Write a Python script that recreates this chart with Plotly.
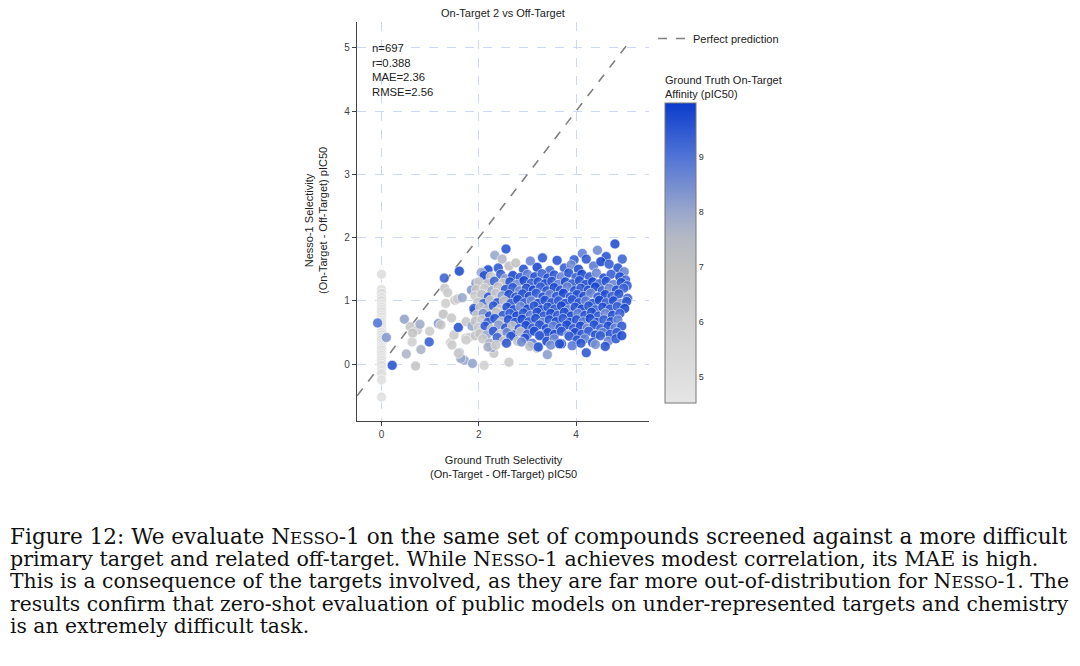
import plotly.graph_objects as go

# ground truth selectivity = 0 column
zero_x = [0.0] * 34
zero_y = [1.42, 1.18, 1.12, 1.06, 1.00, 0.95, 0.90, 0.86, 0.82, 0.78, 0.74, 0.70,
          0.66, 0.62, 0.58, 0.54, 0.50, 0.46, 0.42, 0.38, 0.34, 0.30, 0.26, 0.22,
          0.18, 0.14, 0.10, 0.06, 0.02, -0.02, -0.08, -0.15, -0.25, -0.52]
zero_c = [5.0, 4.9, 5.1, 4.8, 5.2, 4.7, 5.0, 4.9, 5.3, 4.8, 5.1, 4.6,
          5.0, 4.9, 5.2, 4.7, 5.0, 5.1, 4.8, 5.3, 4.9, 5.0, 4.7, 5.2,
          4.9, 5.0, 4.8, 5.1, 4.9, 5.0, 4.7, 5.0, 4.8, 4.9]

# sparse points on the low-selectivity side and along the bottom
sparse_x = [-0.08, 0.10, 0.22, 0.70, 0.47, 0.51, 0.81, 0.63, 0.59, 0.74, 0.79, 0.64,
            0.98, 0.99, 1.17, 1.27, 1.32, 1.30, 1.36, 1.29, 1.60, 1.44, 1.42, 1.51,
            1.56, 1.66, 1.49, 1.58, 1.60, 1.70, 1.87, 1.63, 1.22, 1.73, 1.74, 1.86,
            1.85, 1.94, 2.11, 2.62, 2.31, 2.27, 3.41, 4.21, 3.20, 3.23, 1.58, 1.45,
            1.91, 1.80, 1.74, 1.93, 2.13, 2.11]
sparse_y = [0.65, 0.42, -0.02, -0.03, 0.71, 0.16, 0.23, 0.35, 0.59, 0.54, 0.63, 0.49,
            0.35, 0.52, 0.64, 0.79, 0.96, 1.20, 1.13, 1.36, 1.47, 0.73, 0.34, 1.01,
            1.03, 1.05, 0.46, 0.58, 0.18, 0.06, 0.01, 0.09, 0.62, 0.41, 0.67, 0.60,
            1.17, 1.28, -0.02, 0.03, 0.17, 0.26, 0.15, 0.18, 0.25, 0.27, 0.17, 0.30,
            0.84, 0.42, 0.38, 0.45, 1.28, 1.43]
sparse_c = [9.0, 8.3, 9.6, 6.8, 8.1, 7.6, 7.7, 6.0, 6.6, 6.4, 7.9, 6.9,
            9.4, 6.3, 8.3, 6.9, 6.1, 6.6, 6.4, 9.3, 9.7, 6.5, 5.9, 6.5,
            6.3, 8.0, 6.4, 9.6, 7.9, 8.0, 8.1, 8.0, 6.7, 6.2, 6.6, 8.0,
            8.3, 8.2, 6.0, 6.4, 6.6, 8.0, 8.2, 9.5, 6.9, 9.4, 6.3, 6.2,
            9.5, 6.5, 6.1, 6.8, 6.7, 9.5]

# main cluster, read row by row from top to bottom
cluster_x = [
    2.56, 2.33, 2.48, 3.31, 3.96, 4.13, 4.44, 4.62, 4.80, 4.95,
    2.19, 2.40, 2.62, 2.76, 2.92, 3.06, 3.20, 3.46, 3.61, 3.76, 3.90, 4.05, 4.21, 4.36, 4.51, 4.68, 4.86, 4.99,
    2.05, 2.11, 2.25, 2.45, 2.55, 2.70, 2.85, 3.00, 3.15, 3.30, 3.42, 3.55, 3.70, 3.85, 4.00, 4.12, 4.28, 4.42, 4.57, 4.72, 4.90, 5.02,
    2.00, 2.18, 2.32, 2.50, 2.64, 2.78, 2.93, 3.08, 3.22, 3.36, 3.50, 3.63, 3.78, 3.92, 4.07, 4.20, 4.34, 4.48, 4.62, 4.77, 4.93, 5.05,
    1.95, 2.12, 2.27, 2.40, 2.55, 2.70, 2.84, 2.98, 3.12, 3.27, 3.40, 3.55, 3.68, 3.82, 3.97, 4.10, 4.25, 4.40, 4.54, 4.68, 4.83, 4.98,
    1.92, 2.06, 2.20, 2.35, 2.48, 2.62, 2.76, 2.90, 3.04, 3.18, 3.32, 3.46, 3.60, 3.74, 3.88, 4.02, 4.16, 4.30, 4.45, 4.60, 4.74, 4.88, 5.06,
    1.98, 2.10, 2.24, 2.38, 2.52, 2.66, 2.80, 2.94, 3.08, 3.22, 3.36, 3.50, 3.64, 3.78, 3.92, 4.06, 4.20, 4.34, 4.48, 4.62, 4.77, 4.92, 5.04,
    1.90, 2.03, 2.16, 2.30, 2.44, 2.58, 2.72, 2.86, 3.00, 3.14, 3.28, 3.42, 3.56, 3.70, 3.84, 3.98, 4.12, 4.26, 4.40, 4.55, 4.70, 4.85, 5.00,
    1.96, 2.09, 2.22, 2.36, 2.50, 2.64, 2.78, 2.92, 3.06, 3.20, 3.34, 3.48, 3.62, 3.76, 3.90, 4.04, 4.18, 4.32, 4.46, 4.60, 4.75, 4.90,
    1.93, 2.06, 2.19, 2.33, 2.47, 2.61, 2.75, 2.89, 3.03, 3.17, 3.31, 3.45, 3.59, 3.73, 3.87, 4.01, 4.15, 4.29, 4.43, 4.57, 4.72, 4.86,
    1.99, 2.13, 2.27, 2.41, 2.55, 2.69, 2.83, 2.97, 3.11, 3.25, 3.39, 3.53, 3.67, 3.81, 3.95, 4.09, 4.23, 4.37, 4.51, 4.66, 4.80, 4.94,
    2.02, 2.16, 2.30, 2.44, 2.58, 2.72, 2.86, 3.00, 3.14, 3.28, 3.42, 3.56, 3.70, 3.84, 3.98, 4.12, 4.26, 4.40, 4.55, 4.70, 4.84,
    2.08, 2.22, 2.38, 2.52, 2.66, 2.80, 2.95, 3.10, 3.25, 3.40, 3.55, 3.70, 3.86, 4.02, 4.18, 4.34, 4.50, 4.66, 4.82, 4.94,
    2.19, 2.35, 2.57, 2.88, 3.05, 3.22, 3.48, 3.66, 3.92, 4.10, 4.40, 4.60,
]
cluster_y = [
    1.82, 1.72, 1.66, 1.68, 1.65, 1.75, 1.80, 1.70, 1.90, 1.66,
    1.49, 1.52, 1.55, 1.60, 1.50, 1.63, 1.53, 1.48, 1.64, 1.52, 1.57, 1.50, 1.66, 1.55, 1.62, 1.58, 1.52, 1.46,
    1.45, 1.40, 1.38, 1.42, 1.35, 1.40, 1.37, 1.42, 1.38, 1.43, 1.36, 1.41, 1.38, 1.44, 1.37, 1.42, 1.38, 1.44, 1.36, 1.42, 1.38, 1.33,
    1.30, 1.27, 1.31, 1.28, 1.30, 1.26, 1.32, 1.28, 1.30, 1.27, 1.31, 1.26, 1.30, 1.27, 1.32, 1.26, 1.30, 1.27, 1.31, 1.26, 1.29, 1.24,
    1.18, 1.20, 1.16, 1.22, 1.18, 1.21, 1.16, 1.20, 1.17, 1.22, 1.16, 1.21, 1.17, 1.22, 1.16, 1.20, 1.17, 1.22, 1.16, 1.20, 1.17, 1.20,
    1.08, 1.10, 1.06, 1.12, 1.08, 1.10, 1.06, 1.11, 1.07, 1.12, 1.06, 1.10, 1.07, 1.12, 1.06, 1.10, 1.07, 1.12, 1.06, 1.10, 1.07, 1.11, 1.04,
    0.98, 0.96, 1.01, 0.97, 1.00, 0.96, 1.02, 0.97, 1.00, 0.96, 1.01, 0.97, 1.00, 0.96, 1.02, 0.97, 1.00, 0.96, 1.01, 0.97, 1.00, 0.96, 0.99,
    0.88, 0.90, 0.86, 0.92, 0.87, 0.90, 0.86, 0.91, 0.87, 0.92, 0.86, 0.90, 0.87, 0.92, 0.86, 0.90, 0.87, 0.92, 0.86, 0.90, 0.87, 0.91, 0.88,
    0.78, 0.80, 0.76, 0.82, 0.77, 0.80, 0.76, 0.81, 0.77, 0.82, 0.76, 0.80, 0.77, 0.82, 0.76, 0.80, 0.77, 0.82, 0.76, 0.80, 0.77, 0.80,
    0.68, 0.70, 0.66, 0.72, 0.67, 0.70, 0.66, 0.71, 0.67, 0.72, 0.66, 0.70, 0.67, 0.72, 0.66, 0.70, 0.67, 0.72, 0.66, 0.70, 0.67, 0.70,
    0.58, 0.60, 0.56, 0.62, 0.57, 0.60, 0.56, 0.61, 0.57, 0.62, 0.56, 0.60, 0.57, 0.62, 0.56, 0.60, 0.57, 0.62, 0.56, 0.60, 0.57, 0.60,
    0.48, 0.46, 0.52, 0.47, 0.50, 0.46, 0.51, 0.47, 0.52, 0.46, 0.50, 0.47, 0.52, 0.46, 0.50, 0.47, 0.52, 0.46, 0.50, 0.47, 0.50,
    0.40, 0.33, 0.42, 0.37, 0.44, 0.36, 0.41, 0.33, 0.45, 0.36, 0.40, 0.32, 0.44, 0.38, 0.40, 0.34, 0.45, 0.36, 0.40, 0.45,
    0.27, 0.30, 0.33, 0.35, 0.28, 0.27, 0.30, 0.32, 0.29, 0.33, 0.31, 0.28,
]
cluster_c = [
    9.6, 8.0, 7.6, 9.5, 9.4, 8.8, 8.6, 9.6, 9.7, 9.3,
    9.7, 9.5, 7.1, 6.9, 9.6, 8.7, 9.8, 9.3, 9.6, 9.4, 8.6, 9.7, 9.5, 8.9, 9.8, 9.4, 9.6, 8.7,
    8.0, 9.6, 6.8, 9.4, 8.2, 9.8, 9.5, 8.8, 9.7, 9.3, 9.8, 9.5, 8.7, 9.6, 9.4, 9.8, 9.5, 8.6, 9.7, 9.4, 9.8, 9.2,
    6.6, 7.5, 9.3, 7.0, 9.6, 8.5, 9.8, 9.4, 9.6, 9.7, 9.5, 8.8, 9.8, 9.4, 9.6, 9.7, 9.8, 9.3, 9.6, 8.7, 9.7, 9.4,
    7.0, 6.5, 8.0, 6.9, 9.6, 9.5, 8.6, 9.7, 9.8, 9.4, 9.6, 9.8, 9.5, 8.7, 9.7, 9.5, 9.6, 9.8, 9.4, 8.6, 9.7, 9.3,
    6.4, 7.2, 9.5, 6.8, 8.3, 9.7, 9.5, 9.6, 9.8, 9.4, 9.7, 8.8, 9.6, 9.8, 9.5, 9.6, 9.8, 8.7, 9.5, 9.7, 9.4, 9.6, 9.3,
    6.7, 9.3, 6.6, 9.6, 7.3, 9.5, 9.7, 9.5, 8.6, 9.8, 9.6, 9.7, 9.4, 9.8, 9.5, 9.7, 8.8, 9.6, 9.8, 9.4, 9.7, 8.7, 9.5,
    9.4, 6.9, 7.4, 9.5, 6.8, 9.7, 9.6, 8.6, 9.8, 9.5, 9.7, 9.6, 9.4, 9.8, 8.8, 9.7, 9.8, 9.5, 9.3, 9.7, 9.6, 9.4, 9.8,
    6.5, 8.4, 9.6, 7.0, 9.5, 9.4, 9.8, 9.6, 8.9, 9.7, 9.5, 9.8, 9.4, 9.7, 9.8, 8.8, 9.6, 9.7, 9.5, 8.6, 9.7, 9.4,
    7.1, 6.6, 9.4, 9.6, 7.2, 9.7, 9.5, 9.8, 9.4, 9.7, 8.7, 9.6, 9.8, 9.5, 9.7, 9.6, 8.9, 9.8, 9.5, 9.4, 9.7, 8.8,
    6.4, 9.5, 6.9, 8.2, 9.6, 7.3, 9.5, 9.8, 9.4, 9.6, 9.8, 8.8, 9.6, 9.7, 9.5, 9.8, 8.6, 9.6, 9.4, 9.7, 8.8, 9.5,
    7.0, 8.0, 9.5, 6.8, 8.6, 9.6, 7.2, 9.5, 9.7, 8.9, 9.6, 9.8, 9.5, 8.7, 9.7, 9.6, 9.4, 9.7, 8.8, 9.6, 9.4,
    6.6, 7.8, 9.3, 6.9, 9.5, 7.1, 9.6, 8.9, 9.5, 9.8, 8.6, 9.6, 9.4, 9.7, 8.8, 9.6, 9.4, 8.7, 9.5, 9.7,
    7.8, 6.5, 9.5, 8.6, 7.4, 9.4, 8.5, 9.6, 8.9, 9.5, 8.4, 9.6,
]

diag = [-0.5, 5.1]
stats_text = "n=697<br>r=0.388<br>MAE=2.36<br>RMSE=2.56"

caption_lines = [
    "Figure 12: We evaluate {sc} on the same set of compounds screened against a more difficult",
    "primary target and related off-target. While {sc} achieves modest correlation, its MAE is high.",
    "This is a consequence of the targets involved, as they are far more out-of-distribution for {sc}. The",
    "results confirm that zero-shot evaluation of public models on under-represented targets and chemistry",
    "is an extremely difficult task.",
]
caption_y = [536, 558.5, 581, 603.5, 626]
# per-line size so the justified lines reach the right margin
caption_size = [21.6, 20.6, 20.35, 20.3, 20.3]

# page body has an 8px margin, so the figure is drawn 8px in from the corner
OFF = 8
W, H = 1080 - OFF, 666 - OFF


def fx(px):
    return (px - OFF) / W


def fy(py):
    return (H - (py - OFF)) / H


scale = [[0, "#e5e5e5"], [0.45, "#c2c2c2"], [0.55, "#b5b9c4"], [0.64, "#98a6cc"],
         [0.82, "#5174d6"], [1, "#0b3ccc"]]

fig = go.Figure()
fig.add_trace(go.Scatter(
    x=diag, y=diag, mode="lines", name="Perfect prediction",
    line=dict(color="#808080", width=1.6, dash="dash")))

fig.add_trace(go.Scatter(
    x=zero_x + sparse_x + cluster_x,
    y=zero_y + sparse_y + cluster_y,
    mode="markers", showlegend=False,
    marker=dict(
        size=10, color=zero_c + sparse_c + cluster_c, colorscale=scale,
        cmin=4.53, cmax=9.98, opacity=0.88,
        line=dict(color="white", width=0.6),
        colorbar=dict(
            x=fx(665), xanchor="left", y=fy(253), yanchor="middle",
            len=300, lenmode="pixels", thickness=31, xpad=0, ypad=0,
            outlinecolor="#777", outlinewidth=1,
            tickvals=[5, 6, 7, 8, 9], ticks="",
            tickfont=dict(size=9, color="#333"))),
))

axis_common = dict(
    showline=True, linecolor="#444", linewidth=1, ticks="outside", ticklen=4,
    tickcolor="#444", tickfont=dict(size=10, color="#444"),
    showgrid=True, gridcolor="#cdd8f4", griddash="dash", gridwidth=1,
    zeroline=False, mirror=False)

fig.update_layout(
    width=W, height=H, margin=dict(l=0, r=0, t=0, b=0),
    paper_bgcolor="white", plot_bgcolor="white",
    font=dict(family="Liberation Sans, Arial, sans-serif", color="#222"),
    xaxis=dict(domain=[fx(356.7), fx(649)], range=[-0.51, 5.5],
               tickvals=[0, 2, 4], **axis_common),
    yaxis=dict(domain=[fy(421), fy(22)], range=[-0.9, 5.41],
               tickvals=[0, 1, 2, 3, 4, 5], **axis_common),
    legend=dict(x=fx(653), y=fy(24), xanchor="left", yanchor="top",
                font=dict(size=11, color="#222"), bgcolor="rgba(0,0,0,0)"),
)

notes = [
    dict(text="On-Target 2 vs Off-Target", x=fx(503), y=fy(13),
         xanchor="center", yanchor="middle", font=dict(size=11)),
    dict(text=stats_text, x=fx(370), y=fy(40), xanchor="left",
         yanchor="top", align="left", font=dict(size=11.3)),
    dict(text="Ground Truth Selectivity<br>(On-Target - Off-Target) pIC50",
         x=fx(503), y=fy(466.5), xanchor="center", yanchor="middle",
         font=dict(size=11)),
    dict(text="Nesso-1 Selectivity<br>(On-Target - Off-Target) pIC50",
         x=fx(316), y=fy(221), xanchor="center", yanchor="middle",
         textangle=-90, font=dict(size=11)),
    dict(text="Ground Truth On-Target<br>Affinity (pIC50)", x=fx(663), y=fy(87),
         xanchor="left", yanchor="middle", align="left", font=dict(size=11)),
]
for line, yy, size in zip(caption_lines, caption_y, caption_size):
    sc = "N<span style='font-size:%.1fpx'>ESSO</span>-1" % (size * 0.78)
    notes.append(dict(text=line.format(sc=sc), x=fx(8), y=fy(yy), xanchor="left",
                      yanchor="middle", align="left",
                      font=dict(family="DejaVu Serif, serif", size=size, color="#111")))
for n in notes:
    fig.add_annotation(xref="paper", yref="paper", showarrow=False, **n)

fig.write_html("out.html")
